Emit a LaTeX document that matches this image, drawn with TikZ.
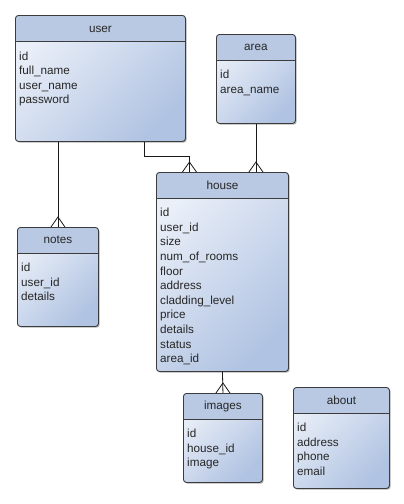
\documentclass[tikz,border=0pt]{standalone}
\usepackage{fontspec}
\setmainfont{Liberation Sans}
\usetikzlibrary{shadows}
\definecolor{headfill}{RGB}{185,201,228}
\definecolor{bodylight}{RGB}{234,239,248}
\definecolor{bodydark}{RGB}{176,195,226}
\definecolor{edgegray}{RGB}{60,60,60}
\begin{document}
\begin{tikzpicture}[x=1pt,y=-1pt,
  table/.style={anchor=north west, draw=edgegray, line width=0.9pt,
    rounded corners=3pt, inner sep=0pt,
    top color=bodylight, bottom color=bodydark, shading angle=45,
    drop shadow={shadow xshift=1.2pt, shadow yshift=-1.2pt, opacity=0.3, fill=black},
    path picture={
      \fill[headfill] (path picture bounding box.north west)
        rectangle ([yshift=-26pt]path picture bounding box.north east);
      \draw[edgegray, line width=0.9pt]
        ([yshift=-26pt]path picture bounding box.north west)
        -- ([yshift=-26pt]path picture bounding box.north east);}},
  title/.style={font=\fontsize{11.7}{14.6}\selectfont, text=black!85},
  fields/.style={anchor=north west, align=left, inner sep=0pt,
    font=\fontsize{11.7}{14.6}\selectfont, text=black!85},
  link/.style={draw=black!90, line width=0.8pt},
  crow/.pic={\draw[link] (-7,0) -- (0,-10) -- (7,0);}]
  \useasboundingbox (0,0) rectangle (404,504);

  %user table
  \node[table, minimum width=170pt, minimum height=126pt] (user) at (15,15) {};
  \node[title] (userhead) at ([yshift=-14pt]user.north) {user};
  \node[fields] (userrows) at ([xshift=4pt,yshift=-36.5pt]user.north west)
    {id\\full\_name\\user\_name\\password};

  %area table
  \node[table, minimum width=79pt, minimum height=89pt] (area) at (216,34) {};
  \node[title] (areahead) at ([yshift=-13pt]area.north) {area};
  \node[fields] (arearows) at ([xshift=4pt,yshift=-36pt]area.north west)
    {id\\area\_name};

  %house table
  \node[table, minimum width=132pt, minimum height=199pt] (house) at (156,172) {};
  \node[title] (househead) at ([yshift=-13pt]house.north) {house};
  \node[fields] (houserows) at ([xshift=4pt,yshift=-36pt]house.north west)
    {id\\user\_id\\size\\num\_of\_rooms\\floor\\address\\cladding\_level\\price\\details\\status\\area\_id};

  %notes table
  \node[table, minimum width=81pt, minimum height=99pt] (notes) at (17,227) {};
  \node[title] (noteshead) at ([yshift=-13pt]notes.north) {notes};
  \node[fields] (notesrows) at ([xshift=4pt,yshift=-36pt]notes.north west)
    {id\\user\_id\\details};

  %images table
  \node[table, minimum width=79pt, minimum height=89pt] (images) at (183,393) {};
  \node[title] (imageshead) at ([yshift=-13pt]images.north) {images};
  \node[fields] (imagesrows) at ([xshift=4pt,yshift=-36pt]images.north west)
    {id\\house\_id\\image};

  %about table
  \node[table, minimum width=96pt, minimum height=101pt] (about) at (293,387) {};
  \node[title] (abouthead) at ([yshift=-13pt]about.north) {about};
  \node[fields] (aboutrows) at ([xshift=4pt,yshift=-36pt]about.north west)
    {id\\address\\phone\\email};

  %links with crow's feet
  \draw[link] (notes.north |- user.south) -- (notes.north);
  \pic at (notes.north) {crow};

  \draw[link] ([xshift=-42pt]user.south east) |- ([xshift=-33pt,yshift=16pt]house.north)
    -- ([xshift=-33pt]house.north);
  \pic at ([xshift=-33pt]house.north) {crow};

  \draw[link] (area.south) -- (area.south |- house.north);
  \pic at (area.south |- house.north) {crow};

  \draw[link] (house.south) -- (images.north);
  \pic at (images.north) {crow};
\end{tikzpicture}
\end{document}
